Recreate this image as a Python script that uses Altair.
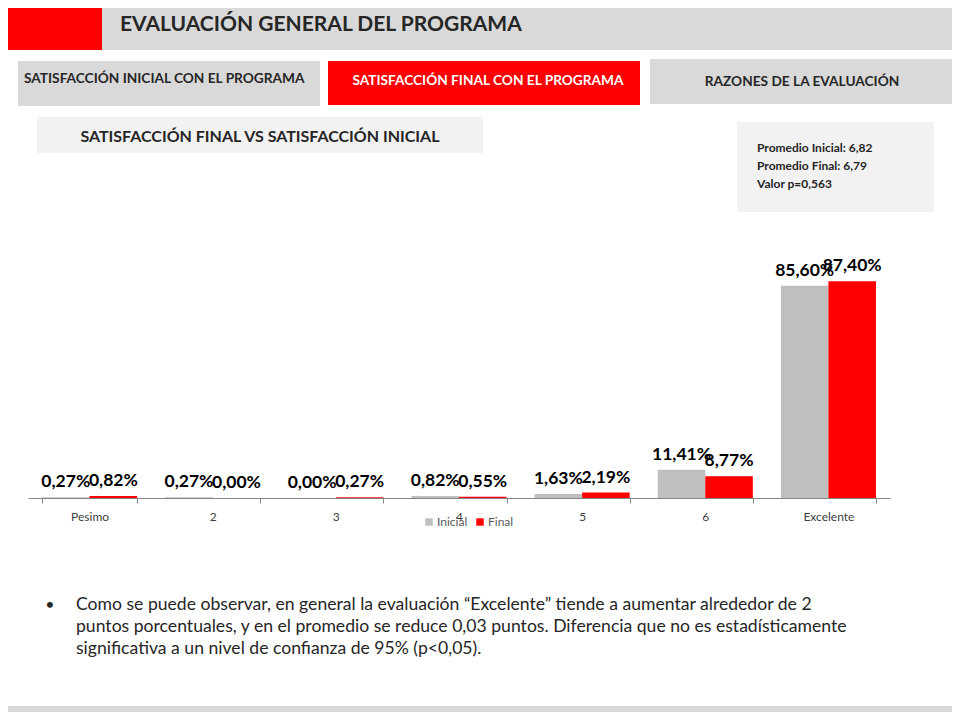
import altair as alt
import pandas as pd

categorias = ["Pesimo", "2", "3", "4", "5", "6", "Excelente"]
series = ["Inicial", "Final"]
inicial = [0.27, 0.27, 0.00, 0.82, 1.63, 11.41, 85.60]
final = [0.82, 0.00, 0.27, 0.55, 2.19, 8.77, 87.40]
colores = ["#BFBFBF", "#FF0000"]

titulo = "EVALUACIÓN GENERAL DEL PROGRAMA"
pestanas = ["SATISFACCIÓN INICIAL CON EL PROGRAMA", "SATISFACCIÓN FINAL CON EL PROGRAMA", "RAZONES DE LA EVALUACIÓN"]
subtitulo = "SATISFACCIÓN FINAL VS SATISFACCIÓN INICIAL"
estadisticas = ["Promedio Inicial: 6,82", "Promedio Final: 6,79", "Valor p=0,563"]
comentario = [
    "Como se puede observar, en general la evaluación “Excelente” tiende a aumentar alrededor de 2",
    "puntos porcentuales, y en el promedio se reduce 0,03 puntos. Diferencia que no es estadísticamente",
    "significativa a un nivel de confianza de 95% (p<0,05).",
]

rows = []
for c, a, b in zip(categorias, inicial, final):
    rows.append({"categoria": c, "serie": "Inicial", "valor": a})
    rows.append({"categoria": c, "serie": "Final", "valor": b})
df = pd.DataFrame(rows)
df["etiqueta"] = df["valor"].map(lambda v: f"{v:.2f}".replace(".", ",") + "%")

one = pd.DataFrame({"k": [0]})
FONT = "Lato"
DARK = "#262626"

x_enc = alt.X("categoria:N", sort=categorias, title=None,
              scale=alt.Scale(paddingInner=0.228, paddingOuter=0.114),
              axis=alt.Axis(labelAngle=0, tickBand="extent", domainColor="#868686",
                            tickColor="#868686", tickSize=5, labelFont=FONT,
                            labelFontSize=12, labelColor="#404040", labelPadding=8,
                            grid=False))
xo = alt.XOffset("serie:N", sort=series)
y_enc = alt.Y("valor:Q", scale=alt.Scale(domain=[0, 100]), axis=None)

bars = alt.Chart(df).mark_bar().encode(
    x=x_enc, xOffset=xo, y=y_enc,
    color=alt.Color("serie:N", sort=series,
                    scale=alt.Scale(domain=series, range=colores),
                    legend=alt.Legend(title=None, orient="none", direction="horizontal",
                                      legendX=395, legendY=266, symbolType="square",
                                      symbolSize=55, symbolStrokeWidth=0,
                                      labelFont=FONT, labelFontSize=12,
                                      labelColor="#595959", columnPadding=6, padding=0,
                                      labelOffset=2)),
)

labels = alt.Chart(df).mark_text(font=FONT, fontSize=17.5, fontWeight="bold",
                                 baseline="bottom", dy=-6, color="#000000").encode(
    x=x_enc, xOffset=xo, y=y_enc, text="etiqueta:N")


def box(x0, x1, y0, y1, color):
    return alt.Chart(one).mark_rect(color=color).encode(
        x=alt.value(x0), x2=alt.value(x1), y=alt.value(y0), y2=alt.value(y1))


def txt(s, x, y, size, weight="normal", align="left", color=DARK, line_height=None):
    kw = dict(text=s, font=FONT, fontSize=size, fontWeight=weight, align=align,
              baseline="middle", color=color)
    if line_height:
        kw["lineHeight"] = line_height
    return alt.Chart(one).mark_text(**kw).encode(x=alt.value(x), y=alt.value(y))


deco = [
    box(-28, 932, -250, -200, "#D9D9D9"),
    box(-28, 74, -250, -200, "#FF0000"),
    txt(titulo, 92, -225, 21, "bold"),
    box(-10, 292, -189, -144, "#D9D9D9"),
    txt(pestanas[0], -4, -171, 13.7, "bold"),
    box(300, 612, -189, -145, "#FF0000"),
    txt(pestanas[1], 460, -169, 13.7, "bold", "center", "#FFFFFF"),
    box(622, 924, -191, -146, "#D9D9D9"),
    txt(pestanas[2], 774, -168, 13.7, "bold", "center"),
    box(9, 455, -133, -97, "#F2F2F2"),
    txt(subtitulo, 232, -113, 16, "bold", "center"),
    box(709, 906, -128, -38, "#F2F2F2"),
    txt(estadisticas, 729, -102, 12, "bold", line_height=18),
    txt("•", 22, 355, 16, align="center"),
    txt(comentario, 48, 355, 17.6, line_height=22),
    box(-28, 932, 456, 470, "#D9D9D9"),
]

chart = alt.layer(*deco, bars, labels).properties(
    width=862, height=248,
    padding={"left": 20, "top": 242, "right": 62, "bottom": 214},
    autosize=alt.AutoSizeParams(type="none"),
).configure(background="#FFFFFF").configure_view(strokeWidth=0, stroke="transparent")

chart.save("out.html", embed_options={"renderer": "svg", "actions": False})
